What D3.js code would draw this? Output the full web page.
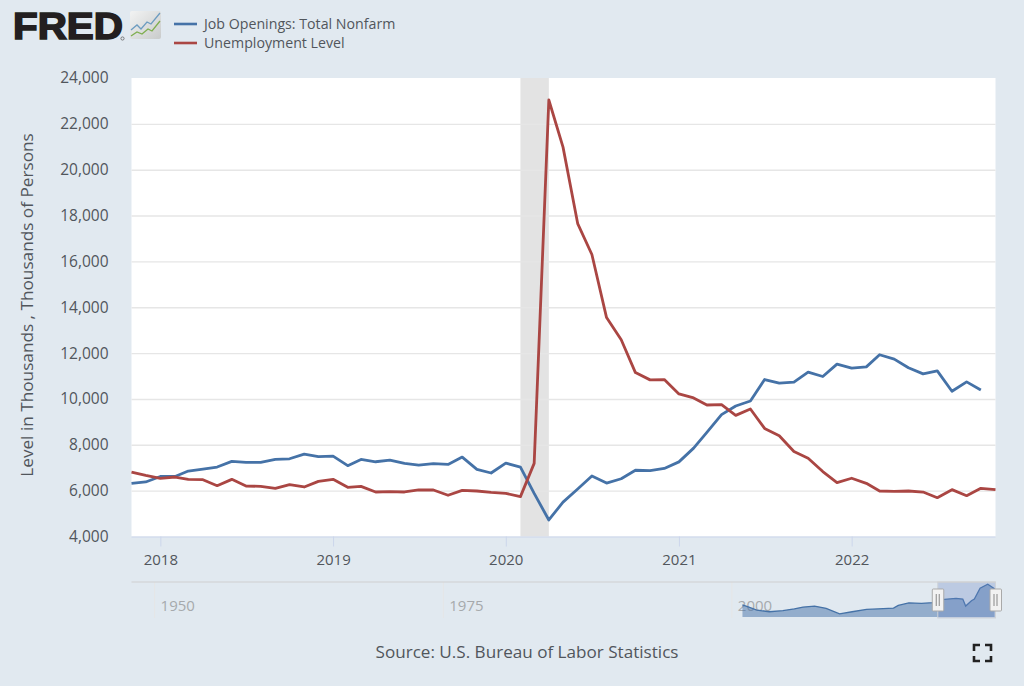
<!DOCTYPE html>
<html>
<head>
<meta charset="utf-8">
<script src="https://cdn.jsdelivr.net/npm/d3@7"></script>
<style>
  html, body { margin: 0; padding: 0; background: #e1e9f0; overflow: hidden; }
  svg { display: block; }
  text { font-family: "Open Sans", sans-serif; }
</style>
</head>
<body>
<svg id="chart" width="1024" height="686"></svg>
<script>
// values, in thousands, monthly from 2017-11
var firstMonth = '2017-11-01';
var jobOpenings = [
  6320, 6380, 6620, 6620, 6855, 6940, 7030, 7276, 7230, 7230, 7363, 7390,
  7595, 7480, 7508, 7090, 7363, 7260, 7334, 7190, 7116, 7175, 7145, 7465,
  6930, 6770, 7200, 7030, 5880, 4720, 5500, 6070, 6640, 6330, 6520, 6890,
  6870, 6970, 7255, 7854, 8540, 9314, 9693, 9912, 10847, 10686, 10730, 11168,
  10978, 11518, 11343, 11400, 11927, 11737, 11358, 11095, 11226, 10336, 10745, 10394
];
var unemployment = [
  6812, 6667, 6536, 6595, 6493, 6478, 6217, 6493, 6203, 6188, 6100, 6261,
  6160, 6406, 6493, 6145, 6188, 5942, 5956, 5942, 6029, 6029, 5797, 6015,
  5985, 5927, 5884, 5740, 7189, 23040, 20985, 17650, 16300, 13550, 12580, 11150,
  10832, 10847, 10220, 10044, 9737, 9752, 9285, 9562, 8715, 8394, 7708, 7416,
  6832, 6350, 6540, 6320, 5985, 5970, 5985, 5940, 5693, 6043, 5780, 6100, 6043
];
var recession = ['2020-02-01', '2020-04-01'];
var yTicks = [4000, 6000, 8000, 10000, 12000, 14000, 16000, 18000, 20000, 22000, 24000];
var xTickYears = ['2018', '2019', '2020', '2021', '2022'];
var navTickYears = ['1950', '1975', '2000'];

// navigator series: job openings over the whole history
var navDates = ['2000-12-01', '2001-06-01', '2002-03-01', '2003-04-01', '2004-06-01', '2005-06-01', '2006-03-01', '2007-03-01',
  '2008-03-01', '2009-05-01', '2010-06-01', '2011-09-01', '2012-09-01', '2014-01-01', '2014-06-01', '2015-05-01', '2016-06-01', '2017-06-01',
  '2018-03-01', '2019-06-01', '2020-01-01', '2020-04-01', '2020-10-01', '2021-01-01', '2021-07-01', '2022-03-01', '2022-10-01'];
var navValues = [5200, 4500, 3500, 2950, 3300, 3900, 4470, 4800,
  4050, 2250, 2950, 3700, 3900, 4150, 5000, 5860, 5700, 5900,
  6900, 7300, 7050, 4800, 6500, 7100, 10600, 11900, 10400];

var svg = d3.select('#chart');
var blue = '#4572a7', red = '#aa4643', textCol = '#51565c', navText = '#a6a9ac';

var plotLeft = 131.5, plotRight = 995.5, plotTop = 78, plotBottom = 536.5;
var parse = d3.utcParse('%Y-%m-%d');
var months = d3.utcMonth.range(parse(firstMonth), d3.utcMonth.offset(parse(firstMonth), unemployment.length));

var x = d3.scaleUtc().domain([months[0], months[months.length - 1]]).range([plotLeft, plotRight]);
var y = d3.scaleLinear().domain([4000, 24000]).range([plotBottom, plotTop]);

svg.append('rect').attr('x', plotLeft).attr('y', plotTop).attr('width', plotRight - plotLeft).attr('height', plotBottom - plotTop).attr('fill', '#fff');

// recession band
svg.append('rect')
  .attr('x', x(parse(recession[0])))
  .attr('width', x(parse(recession[1])) - x(parse(recession[0])))
  .attr('y', plotTop).attr('height', plotBottom - plotTop)
  .attr('fill', '#e3e3e3');

// y axis with grid
var yAxis = svg.append('g').attr('transform', 'translate(' + plotLeft + ',0)')
  .call(d3.axisLeft(y).tickValues(yTicks).tickSize(-(plotRight - plotLeft)).tickPadding(23).tickFormat(d3.format(',')));
yAxis.select('.domain').remove();
yAxis.selectAll('line').attr('stroke', '#e6e6e6').attr('stroke-width', 1.4);
yAxis.selectAll('.tick').filter(function(d) { return d == 4000 || d == 24000; }).select('line').remove();
yAxis.selectAll('text').attr('fill', textCol).style('font-size', '15.5px');

// x axis
var xAxis = svg.append('g').attr('transform', 'translate(0,' + plotBottom + ')')
  .call(d3.axisBottom(x)
    .tickValues(xTickYears.map(function(d) { return parse(d + '-01-01'); }))
    .tickSize(10).tickPadding(8).tickFormat(d3.utcFormat('%Y')));
xAxis.select('.domain').attr('stroke', '#ccd6eb').attr('d', 'M' + plotLeft + ',0.5H' + plotRight);
xAxis.selectAll('line').attr('stroke', '#ccd6eb');
xAxis.selectAll('text').attr('fill', textCol).style('font-size', '15px');

// series
function drawSeries(values, color) {
  var line = d3.line()
    .x(function(d, i) { return x(months[i]); })
    .y(function(d) { return y(d); });
  svg.append('path').datum(values)
    .attr('d', line)
    .attr('fill', 'none')
    .attr('stroke', color)
    .attr('stroke-width', 2.8)
    .attr('stroke-linejoin', 'round');
}
drawSeries(jobOpenings, blue);
drawSeries(unemployment, red);

// axis title
svg.append('text')
  .attr('transform', 'translate(33,305) rotate(-90)')
  .attr('text-anchor', 'middle')
  .attr('fill', textCol)
  .style('font-size', '17.2px')
  .text('Level in Thousands , Thousands of Persons');

// navigator
var navTop = 582, navBottom = 617;
var navX = d3.scaleUtc().domain([parse('1948-01-01'), months[months.length - 1]]).range([plotLeft, plotRight]);
var navY = d3.scaleLinear().domain([1250, 12600]).range([navBottom, navTop]);
var navData = navDates.map(function(d, i) { return { date: parse(d), value: navValues[i] }; });

navTickYears.forEach(function(yr) {
  var tx = navX(parse(yr + '-01-01'));
  svg.append('line').attr('x1', tx).attr('x2', tx).attr('y1', navTop).attr('y2', navBottom + 1)
    .attr('stroke', '#e6e6e6').attr('stroke-width', 1);
  svg.append('text').attr('x', tx + 6).attr('y', 611).attr('fill', navText)
    .style('font-size', '15px').text(yr);
});

var navArea = d3.area()
  .x(function(d) { return navX(d.date); })
  .y0(navBottom)
  .y1(function(d) { return navY(d.value); });
var navLine = d3.line()
  .x(function(d) { return navX(d.date); })
  .y(function(d) { return navY(d.value); });
svg.append('path').datum(navData).attr('d', navArea).attr('fill', blue).attr('fill-opacity', 0.5);
svg.append('path').datum(navData).attr('d', navLine).attr('fill', 'none').attr('stroke', blue).attr('stroke-width', 1.3);

var selX0 = navX(months[0]), selX1 = navX(months[months.length - 1]);
svg.append('rect').attr('x', selX0).attr('y', navTop).attr('width', selX1 - selX0).attr('height', navBottom - navTop + 1)
  .attr('fill', '#6685c2').attr('fill-opacity', 0.3).attr('stroke', '#cfd3d8').attr('stroke-width', 1);
svg.append('line').attr('x1', plotLeft).attr('x2', plotRight).attr('y1', navTop).attr('y2', navTop)
  .attr('stroke', '#cfcfcf').attr('stroke-width', 1.2);

[selX0, selX1].forEach(function(hx) {
  var g = svg.append('g').attr('transform', 'translate(' + hx + ',589)');
  g.append('rect').attr('x', -5.5).attr('y', 0).attr('width', 11.5).attr('height', 22).attr('rx', 1)
    .attr('fill', '#f2f2f2').attr('stroke', '#a9a9a9').attr('stroke-width', 1);
  g.selectAll('line').data([-1.5, 1.5]).enter().append('line')
    .attr('x1', function(d) { return d; }).attr('x2', function(d) { return d; })
    .attr('y1', 5).attr('y2', 17).attr('stroke', '#999').attr('stroke-width', 1.2);
});

// source + fullscreen icon
svg.append('text').attr('x', 527).attr('y', 658).attr('text-anchor', 'middle')
  .attr('fill', textCol).style('font-size', '17.1px').text('Source: U.S. Bureau of Labor Statistics');

svg.append('path')
  .attr('d', 'M974,651V645H980M985,645H991V651M991,656V661H985M980,661H974V656')
  .attr('fill', 'none').attr('stroke', '#222').attr('stroke-width', 2.6);

// logo
var logo = svg.append('g');
logo.append('text').attr('x', 13).attr('y', 39)
  .attr('textLength', 110).attr('lengthAdjust', 'spacingAndGlyphs')
  .attr('fill', '#231f20').attr('stroke', '#231f20').attr('stroke-width', 1.6)
  .style('font-family', '"Liberation Sans", sans-serif').style('font-weight', 700).style('font-size', '37px')
  .text('FRED');
logo.append('circle').attr('cx', 122.5).attr('cy', 38.5).attr('r', 1.6).attr('fill', 'none').attr('stroke', '#555').attr('stroke-width', 0.7);
var grad = svg.append('defs').append('linearGradient').attr('id', 'iconFill').attr('x1', 0).attr('y1', 0).attr('x2', 1).attr('y2', 1);
grad.append('stop').attr('offset', 0).attr('stop-color', '#f2f3f3');
grad.append('stop').attr('offset', 1).attr('stop-color', '#c9cbcb');
logo.append('rect').attr('x', 130).attr('y', 11).attr('width', 31).attr('height', 28).attr('rx', 2).attr('fill', 'url(#iconFill)');
logo.append('path').attr('d', 'M131,30L137,25L141,29L147,22L151,24L160,13')
  .attr('fill', 'none').attr('stroke', '#6d9cc0').attr('stroke-width', 1.3);
logo.append('path').attr('d', 'M131,36L137,32L142,34L148,29L152,31L160,21')
  .attr('fill', 'none').attr('stroke', '#7fae4f').attr('stroke-width', 1.3);

// legend
var legendNames = ['Job Openings: Total Nonfarm', 'Unemployment Level'];
var legendColors = [blue, red];
var legendRows = [24, 43];
legendNames.forEach(function(name, i) {
  svg.append('line').attr('x1', 174).attr('x2', 197).attr('y1', legendRows[i]).attr('y2', legendRows[i])
    .attr('stroke', legendColors[i]).attr('stroke-width', 2.6);
  svg.append('text').attr('x', 204).attr('y', legendRows[i] + 5).attr('fill', textCol)
    .style('font-size', '14.2px').text(name);
});
</script>
</body>
</html>
